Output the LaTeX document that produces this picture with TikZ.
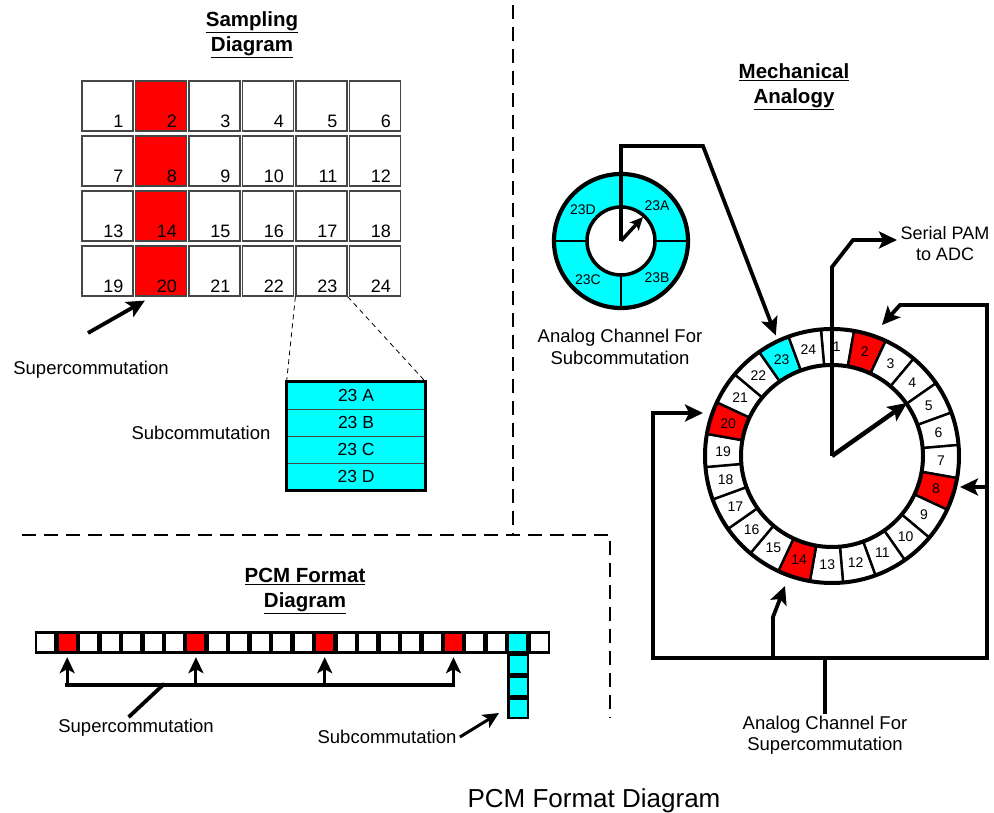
\documentclass[tikz,border=0pt]{standalone}
\usepackage{fontspec}
\setmainfont{Liberation Sans}
\usepackage{tikz}
\usetikzlibrary{arrows.meta, calc}
\definecolor{rojo}{RGB}{255,0,0}
\definecolor{cian}{RGB}{0,255,255}
\definecolor{gris}{RGB}{70,70,70}
\newcommand{\tam}[2]{\fontsize{#1}{#2}\selectfont}

\begin{document}
\begin{tikzpicture}[
  x=1pt, y=1pt,
  font={\tam{18.5}{21.5}},
  celda/.style={draw=gris, line width=1.2pt, minimum width=51pt, minimum height=50pt, inner sep=0pt},
  num/.style={anchor=base east, inner sep=0pt, font={\tam{18}{20}}},
  fila/.style={draw=gris, line width=0.8pt, fill=cian, minimum width=138pt, minimum height=27pt, inner sep=0pt, font={\tam{17.5}{20}}},
  bit/.style={minimum size=17pt, inner sep=0pt},
  titulo/.style={font={\tam{20.5}{25}\bfseries}, align=center},
  etq/.style={align=center},
  rnum/.style={font={\tam{14}{16}}, inner sep=0pt},
  linea/.style={line width=3.8pt, line cap=rect},
  flecha/.style={line width=3.8pt, -{Stealth[length=18pt, width=17pt, inset=4pt]}},
  flechas/.style={line width=3.8pt, {Stealth[length=18pt, width=17pt, inset=4pt]}-{Stealth[length=18pt, width=17pt, inset=4pt]}},
  flechap/.style={line width=3pt, -{Stealth[length=16pt, width=15pt, inset=4pt]}},
  corte/.style={line width=1.1pt, dash pattern=on 14pt off 8pt},
  guia/.style={line width=0.8pt, dash pattern=on 5pt off 4pt}
]
\useasboundingbox (0,0) rectangle (994,813);
% Diagrama de muestreo
\node[titulo] (tmues) at (252,778) {\underline{Sampling}\\\underline{Diagram}};
\foreach \k in {1,...,24}{
  \pgfmathtruncatemacro{\colu}{mod(\k-1,6)}
  \pgfmathtruncatemacro{\filu}{div(\k-1,6)}
  \ifnum\colu=1 \def\relleno{rojo}\else\def\relleno{white}\fi
  \node[celda, fill=\relleno] (s\k) at (107.5+53.5*\colu, 707-55*\filu) {};
  \node[num] (n\k) at ([shift={(-10,4)}]s\k.south east) {\k};
}
% Tabla de subconmutacion
\node[fila] (t1) at (356,417.5) {23 A};
\node[fila] (t2) at (356,390.5) {23 B};
\node[fila] (t3) at (356,363.5) {23 C};
\node[fila] (t4) at (356,336.5) {23 D};
\draw[line width=3.2pt] (t1.north west) rectangle (t4.south east);
\draw[guia] (s23.south west) -- (t1.north west);
\draw[guia] (s23.south east) -- (t1.north east);
\node (subm) at (201,380) {Subcommutation};
\node (supm) at (91,443) {Supercommutation};
\coordinate (supmi) at (88,480);
\draw[flecha] (supmi) -- ([shift={(10,-4)}]s20.south west);
% Separadores
\draw[corte] (513,808) -- (513,278);
\draw[corte] (22,278) -- (610,278) -- (610,95);
% Analogia mecanica
\node[titulo] (tmec) at (794,726) {\underline{Mechanical}\\\underline{Analogy}};
\coordinate (eje) at (832,357);
\coordinate (eje2) at (621,572);
\filldraw[fill=cian, line width=4.2pt] (eje2) circle[radius=67pt];
\filldraw[fill=white, line width=3.5pt] (eje2) circle[radius=34pt];
\draw[line width=1.8pt] ($(eje2)+(-67,0)$) -- ($(eje2)+(-34,0)$)
  ($(eje2)+(34,0)$) -- ($(eje2)+(67,0)$)
  ($(eje2)+(0,-34)$) -- ($(eje2)+(0,-67)$);
\node[rnum] (c23d) at (583,603) {23D};
\node[rnum] (c23a) at (657,607) {23A};
\node[rnum] (c23c) at (588,533) {23C};
\node[rnum] (c23b) at (657,535) {23B};
\draw[line width=3.5pt, -{Stealth[length=13pt, width=12pt, inset=3pt]}] (eje2) -- ++(22,24);
\node[etq] (asub) at (620,466) {Analog Channel For\\Subcommutation};
% Anillo grande
\foreach \k in {1,...,24}{
  \pgfmathsetmacro{\aini}{110-15*\k}
  \pgfmathsetmacro{\afin}{95-15*\k}
  \pgfmathsetmacro{\amed}{102.5-15*\k}
  \pgfmathtruncatemacro{\resto}{mod(\k,6)}
  \def\relleno{white}
  \ifnum\resto=2 \def\relleno{rojo}\fi
  \ifnum\k=23 \def\relleno{cian}\fi
  \filldraw[fill=\relleno, line width=2.4pt] ($(eje)+(\aini:127pt)$) arc[start angle=\aini, end angle=\afin, radius=127pt]
    -- ($(eje)+(\afin:91pt)$) arc[start angle=\afin, end angle=\aini, radius=91pt] -- cycle;
  \node[rnum] (r\k) at ($(eje)+(\amed:109pt)$) {\k};
}
\draw[line width=4pt] (eje) circle[radius=127pt] (eje) circle[radius=91pt];
\coordinate (in23) at ($(eje)+(115:133pt)$);
\draw[flecha] (eje2) -- (621,667) -- (703,667) -- (in23);
\node[etq, font={\tam{18}{21}}] (pam) at (945,569.5) {Serial PAM\\to ADC};
\coordinate (salida) at (897,573);
\draw[flecha] (eje) -- (832,546) -- (853,573) -- (salida);
\draw[line width=4.5pt, -{Stealth[length=19pt, width=17pt, inset=4pt]}] (eje) -- (907,410);
% Canal de superconmutacion
\coordinate (bi) at (653,155);
\coordinate (bd) at (987,155);
\coordinate (in20) at (703,400);
\coordinate (in2) at (882,488);
\coordinate (in8) at (960,326);
\coordinate (in14) at (785,227);
\draw[flechas] (in20) -- (653,400) -- (bi) -- (bd) -- (987,508) -- (900,508) -- (in2);
\draw[flecha] (987,326) -- (in8);
\draw[flecha] (773,155) -- (773,196) -- (in14);
\node[etq] (asup) at (825,78) {Analog Channel For\\Supercommutation};
\draw[linea] (asup.north |- bi) -- (asup.north);
% Formato PCM
\node[titulo] (tpcm) at (305,222) {\underline{PCM Format}\\\underline{Diagram}};
\fill (35,159) rectangle (550,182);
\fill (507,94) rectangle (529,182);
\foreach \k in {1,...,24}{
  \pgfmathtruncatemacro{\resto}{mod(\k,6)}
  \def\relleno{white}
  \ifnum\resto=2 \def\relleno{rojo}\fi
  \ifnum\k=23 \def\relleno{cian}\fi
  \node[bit, fill=\relleno] (p\k) at ({35+21.46*(\k-0.5)},170.5) {};
}
\node[bit, fill=cian] (pb) at (518,148.5) {};
\node[bit, fill=cian] (pc) at (518,126.5) {};
\node[bit, fill=cian] (pd) at (518,104.5) {};
\coordinate (lsup) at (0,128);
\draw[linea] (p2 |- lsup) -- (p20 |- lsup);
\foreach \k in {2,8,14,20} \draw[flechap] (p\k |- lsup) -- ([yshift=-6pt]p\k.south);
\node (supp) at (136,85) {Supercommutation};
\draw[linea] ([xshift=-6pt]supp.north) -- (163,128);
\node (subp) at (387,76) {Subcommutation};
\draw[flechap] (subp.east) -- (499,100);
\node[anchor=base, font={\tam{26}{30}}] (titulo) at (594,5) {PCM Format Diagram};
\end{tikzpicture}
\end{document}
